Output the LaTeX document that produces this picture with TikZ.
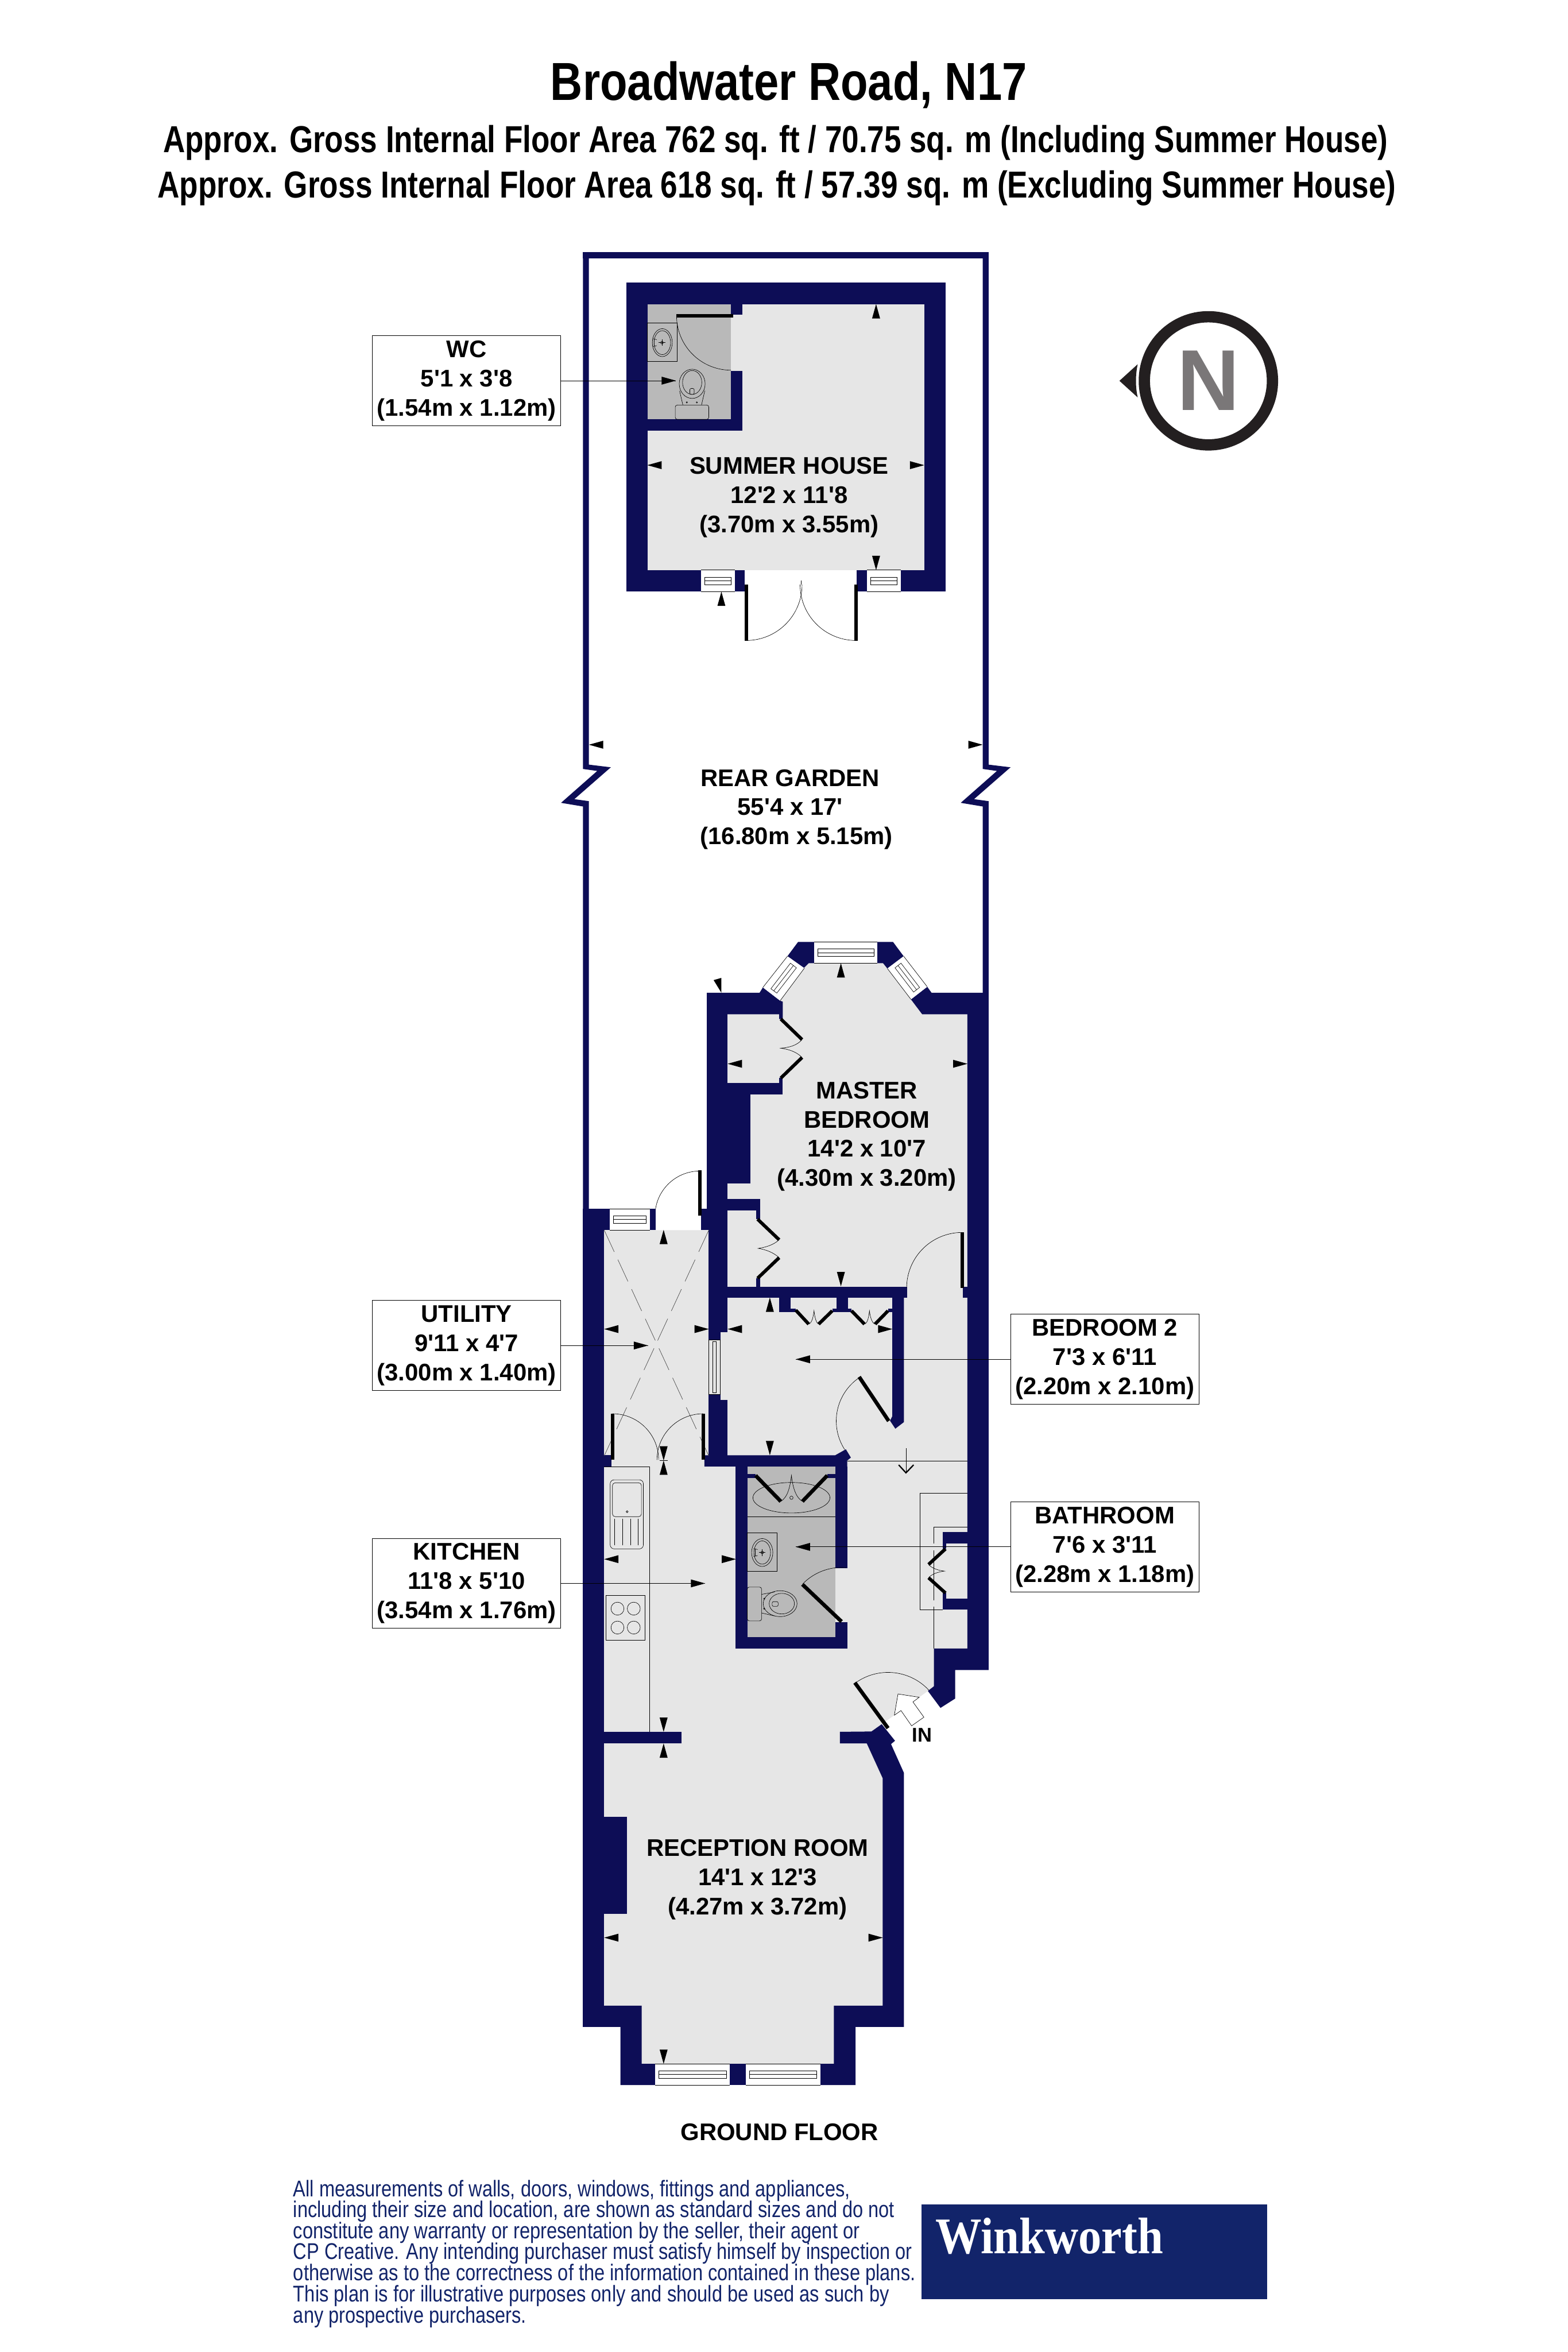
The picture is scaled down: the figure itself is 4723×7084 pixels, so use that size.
\documentclass[tikz,border=0pt]{standalone}
\usepackage{fontspec}
\usepackage{graphicx}
\newfontfamily\arialf{Liberation Sans}
\newfontfamily\seriff{Liberation Serif}
\newlength\pxu
\setlength\pxu{0.01cm}
\definecolor{navy}{HTML}{0D0D56}
\definecolor{logoblue}{HTML}{12246A}
\definecolor{floorgrey}{HTML}{E6E6E6}
\definecolor{wetgrey}{HTML}{B9B9B9}
\definecolor{ringblack}{HTML}{231F20}
\definecolor{ngrey}{HTML}{7A7778}
\tikzset{
  wallfill/.style={fill=navy},
  thinl/.style={draw=black,line width=0.32pt},
  leaf/.style={draw=black,line width=2.85pt},
  leafb/.style={draw=black,line width=3.2pt},
  room/.style={font=\arialf\bfseries\fontsize{20.6}{25}\selectfont,align=center,inner sep=0pt},
  labelbox/.style={room,draw=black,line width=0.4pt,minimum width=5.67cm,minimum height=2.71cm},
  titleline/.style={anchor=base,inner sep=0pt},
  footline/.style={anchor=base west,inner sep=0pt,text=logoblue,font=\arialf\fontsize{19.5}{20}\selectfont},
  leader/.style={draw=black,line width=0.4pt},
  skylight/.style={draw=black!75,line width=0.32pt,dash pattern=on 0.72cm off 0.26cm},
  cupdash/.style={draw=black,line width=0.32pt,dash pattern=on 1.5cm off 0.2cm}
}
\newcommand\dimarr[3]{\fill[black,shift={(#1,#2)},rotate=#3] (0,0)--(-43,-12)--(-43,12)--cycle;}
\newcommand\darc[5]{\draw[thinl] plot[domain=#4:#5,samples=30] ({#1+#2*cos(\x)},{#3-#2*sin(\x)});}
\newcommand\winh[4]{%
  \fill[white] (#1,#2) rectangle (#3,#4);
  \draw[thinl] (#1,#2) -- (#3,#2) (#1,#4) -- (#3,#4);
  \draw[thinl] ({#1+11},{(#2+#4)/2-11}) rectangle ({#3-11},{(#2+#4)/2+11});
  \draw[thinl] ({#1+11},{(#2+#4)/2}) -- ({#3-11},{(#2+#4)/2});
}
\begin{document}
\begin{tikzpicture}[x=0.01cm,y=-0.01cm]
\useasboundingbox (0,0) rectangle (4723,7084);
\fill[white] (0,0) rectangle (4723,7084);
% ---------- floors
\fill[floorgrey] (1950,916) rectangle (2784,1717);
\fill[wetgrey] (1950,916) rectangle (2202,1263);
\fill[floorgrey] (1800,3705) -- (2160,3705) -- (2160,3020) -- (2320,2994) -- (2397,2895) -- (2400,2870) -- (2690,2870) -- (2700,2895) -- (2768,2991) -- (2940,3020) -- (2940,4990) -- (2830,4990) -- (2830,5070) -- (2795,5093) -- (2656,5193) -- (2640,5210) -- (2640,5240) -- (2690,5340) -- (2690,6070) -- (2530,6070) -- (2530,6250) -- (1920,6250) -- (1920,6070) -- (1800,6070) -- cycle;
\fill[wetgrey] (2251,4417) rectangle (2517,4931);
% ---------- garden wall
\fill[wallfill] (1756,760) rectangle (2978,778);
\fill[wallfill] (1756,760) -- (1774,760) -- (1774,2303) -- (1840,2311) -- (1730,2407) -- (1774,2413) -- (1774,3641) -- (1756,3641) -- (1756,2429) -- (1690,2418) -- (1799,2322) -- (1756,2316) -- cycle;
\fill[wallfill] (2960,760) -- (2978,760) -- (2978,2303) -- (3044,2311) -- (2934,2407) -- (2978,2413) -- (2978,3000) -- (2960,3000) -- (2960,2429) -- (2894,2418) -- (3003,2322) -- (2960,2316) -- cycle;
% ---------- summer house walls
\fill[wallfill] (1886,851) rectangle (2849,916);
\fill[wallfill] (1886,916) rectangle (1950,1782);
\fill[wallfill] (2784,916) rectangle (2849,1782);
\fill[wallfill] (1950,1717) rectangle (2112,1782);
\fill[wallfill] (2214,1717) rectangle (2243,1782);
\fill[wallfill] (2581,1717) rectangle (2611,1782);
\fill[wallfill] (2713,1717) rectangle (2784,1782);
\fill[wallfill] (2202,916) rectangle (2237,947);
\fill[wallfill] (2202,1117) rectangle (2237,1297);
\fill[wallfill] (1950,1263) rectangle (2202,1297);
% ---------- house walls
\fill[wallfill] (2129,2990) rectangle (2192,3641);
\fill[wallfill] (2129,2990) -- (2288,2990) -- (2298,2974) -- (2350,3014) -- (2358,3017) -- (2358,3069) -- (2347,3069) -- (2347,3055) -- (2129,3055) -- cycle;
\fill[wallfill] (2372,2880) -- (2404,2837) -- (2452,2837) -- (2452,2901) -- (2436,2901) -- (2421,2916) -- cycle;
\fill[wallfill] (2643,2837) -- (2690,2837) -- (2722,2880) -- (2673,2917) -- (2660,2901) -- (2643,2901) -- cycle;
\fill[wallfill] (2793,2972) -- (2806,2990) -- (2978,2990) -- (2978,5030) -- (2877,5030) -- (2877,5116) -- (2833,5144) -- (2795,5093) -- (2813,5079) -- (2813,4965) -- (2914,4965) -- (2914,3055) -- (2778,3055) -- (2744,3010) -- cycle;
\fill[wallfill] (2192,3261) rectangle (2358,3296);
\fill[wallfill] (2347,3247) rectangle (2358,3261);
\fill[wallfill] (2192,3296) rectangle (2261,3565);
\fill[wallfill] (2192,3611) rectangle (2290,3646);
\fill[wallfill] (2278,3646) rectangle (2290,3671);
\fill[wallfill] (2278,3850) rectangle (2290,3875);
\fill[wallfill] (2135,3875) rectangle (2733,3908);
\fill[wallfill] (2135,3641) rectangle (2192,4013);
\fill[wallfill] (2135,4013) rectangle (2170,4035);
\fill[wallfill] (2135,4200) rectangle (2170,4216);
\fill[wallfill] (2135,4216) rectangle (2192,4417);
\fill[wallfill] (2901,3875) rectangle (2914,3908);
\fill[wallfill] (2347,3908) rectangle (2381,3952);
\fill[wallfill] (2381,3942) rectangle (2397,3952);
\fill[wallfill] (2520,3908) rectangle (2555,3952);
\fill[wallfill] (2507,3942) rectangle (2565,3952);
\fill[wallfill] (2675,3942) rectangle (2688,3952);
\fill[wallfill] (2688,3908) -- (2723,3908) -- (2723,4283) -- (2697,4303) -- (2681,4279) -- (2688,4265) -- cycle;
\fill[wallfill] (2122,4383) -- (2516,4383) -- (2548,4365) -- (2563,4390) -- (2552,4399) -- (2552,4417) -- (2122,4417) -- cycle;
\fill[wallfill] (2216,4417) rectangle (2251,4965);
\fill[wallfill] (2216,4931) rectangle (2552,4965);
\fill[wallfill] (2517,4417) rectangle (2552,4723);
\fill[wallfill] (2517,4886) rectangle (2552,4931);
\fill[wallfill] (2251,4440) rectangle (2276,4452);
\fill[wallfill] (2492,4440) rectangle (2517,4452);
\fill[wallfill] (1756,3641) rectangle (1820,6105);
\fill[wallfill] (1820,3641) rectangle (1837,3705);
\fill[wallfill] (1958,3641) rectangle (1975,3705);
\fill[wallfill] (2111,3641) rectangle (2135,3705);
\fill[wallfill] (1820,4383) rectangle (1842,4417);
\fill[wallfill] (1820,5216) rectangle (2053,5251);
\fill[wallfill] (1820,5472) rectangle (1888,5765);
\fill[wallfill] (2530,5216) -- (2625,5215) -- (2656,5193) -- (2696,5243) -- (2684,5253) -- (2723,5340) -- (2723,6105) -- (2577,6105) -- (2577,6280) -- (2471,6280) -- (2471,6216) -- (2512,6216) -- (2512,6041) -- (2659,6041) -- (2659,5356) -- (2611,5251) -- (2530,5251) -- cycle;
\fill[wallfill] (1756,6105) -- (1869,6105) -- (1869,6280) -- (1974,6280) -- (1974,6216) -- (1933,6216) -- (1933,6041) -- (1756,6041) -- cycle;
\fill[wallfill] (2199,6216) rectangle (2247,6280);
\fill[wallfill] (2839,4615) rectangle (2914,4649);
\fill[wallfill] (2839,4649) rectangle (2851,4665);
\fill[wallfill] (2839,4798) rectangle (2851,4815);
\fill[wallfill] (2839,4815) rectangle (2914,4848);
% ---------- windows
\winh{2112}{1717}{2214}{1782}
\winh{2611}{1717}{2713}{1782}
\winh{2452}{2837}{2643}{2901}
\winh{1837}{3641}{1958}{3705}
\winh{1974}{6216}{2199}{6280}
\winh{2247}{6216}{2471}{6280}
\fill[white] (2298,2974) -- (2372,2880) -- (2423,2916) -- (2350,3014) -- cycle;
\draw[thinl] (2298,2974) -- (2372,2880) (2423,2916) -- (2350,3014);
\draw[thinl] (2322,2978) -- (2381,2901) -- (2399,2915) -- (2340,2991) -- cycle (2331,2984) -- (2390,2908);
\fill[white] (2722,2880) -- (2793,2972) -- (2744,3010) -- (2673,2917) -- cycle;
\draw[thinl] (2722,2880) -- (2793,2972) (2744,3010) -- (2673,2917);
\draw[thinl] (2714,2901) -- (2770,2974) -- (2752,2988) -- (2696,2915) -- cycle (2705,2908) -- (2761,2981);
% internal window, utility to bedroom 2
\draw[thinl] (2135,4035) rectangle (2170,4200);
\draw[thinl] (2147,4041) rectangle (2158,4194);
% ---------- WC fittings
\draw[thinl] (1950,973) rectangle (2040,1089);
\draw[thinl] (1995,1032) ellipse [x radius=30,y radius=42];
\draw[thinl] (1995,1032) ellipse [x radius=25,y radius=36];
\draw[thinl] (1994,1022) -- (1994,1042) (1984,1032) -- (2004,1032);
\draw[thinl] (1994,1032) circle [radius=4];
\draw[thinl] (1971,1021) -- (1971,1043) (1966,1020) -- (1978,1023) (1966,1044) -- (1978,1041);
\draw[thinl] (2085,1156) ellipse [x radius=39,y radius=44];
\draw[thinl] (2085,1152) ellipse [x radius=29,y radius=36];
\draw[thinl,rounded corners=0.04cm] (2078,1170) rectangle (2091,1188);
\draw[thinl] (2047,1177) -- (2057,1220) (2123,1177) -- (2113,1220);
\draw[thinl,rounded corners=0.06cm] (2034,1220) rectangle (2135,1263);
\draw[thinl] (2069,1212) circle [radius=2] (2099,1212) circle [radius=2];
% ---------- bathroom fittings
\draw[thinl] (2251,4568) -- (2517,4568);
\draw[thinl] (2384,4511) ellipse [x radius=116,y radius=46];
\draw[thinl] (2384,4511) circle [radius=5];
\draw[thinl] (2251,4616) rectangle (2341,4732);
\draw[thinl] (2296,4676) ellipse [x radius=32,y radius=42];
\draw[thinl] (2296,4676) ellipse [x radius=25,y radius=35];
\draw[thinl] (2296,4666) -- (2296,4686) (2286,4676) -- (2306,4676);
\draw[thinl] (2296,4676) circle [radius=4];
\draw[thinl] (2275,4665) -- (2275,4687) (2270,4664) -- (2282,4667) (2270,4688) -- (2282,4685);
\draw[thinl,rounded corners=0.06cm] (2251,4780) rectangle (2294,4882);
\draw[thinl] (2350,4830) ellipse [x radius=51,y radius=39];
\draw[thinl] (2355,4830) ellipse [x radius=38,y radius=31];
\draw[thinl] (2294,4802) -- (2333,4795) (2294,4858) -- (2333,4867);
\draw[thinl,rounded corners=0.04cm] (2326,4824) rectangle (2344,4838);
\draw[thinl] (2302,4815) circle [radius=2] (2302,4845) circle [radius=2];
% ---------- kitchen fittings
\draw[thinl] (1820,4417) -- (1956,4417) -- (1956,5216);
\draw[thinl,rounded corners=0.12cm] (1838,4457) rectangle (1938,4665);
\draw[thinl,rounded corners=0.08cm] (1845,4466) rectangle (1932,4568);
\draw[thinl] (1889,4553) circle [radius=3];
\draw[thinl] (1851,4575) -- (1851,4654) (1875,4575) -- (1875,4654) (1899,4575) -- (1899,4654) (1922,4575) -- (1922,4654);
\draw[thinl] (1825,4805) rectangle (1943,4940);
\draw[thinl] (1860,4845) circle [radius=19.5] (1909,4845) circle [radius=19.5] (1860,4902) circle [radius=19.5] (1909,4902) circle [radius=19.5];
% ---------- hall lines
\draw[thinl] (2552,4400) -- (2914,4400);
\draw[thinl] (2729,4362) -- (2729,4435);
\draw[draw=black,line width=1.1pt] (2707,4412) -- (2729,4436) -- (2752,4412);
\draw[thinl] (2914,4497) -- (2772,4497) -- (2772,4848) -- (2839,4848);
\draw[cupdash] (2914,4600) -- (2813,4600) -- (2813,4965);
% ---------- skylight
\draw[skylight] (1820,3705) -- (2135,4385);
\draw[skylight] (2135,3705) -- (1820,4385);
% ---------- door leaves and swings
\draw[leaf] (2038,951) -- (2209,951);
\darc{2202}{164}{951}{180}{270}
\draw[leaf] (2248,1761) -- (2248,1930);
\draw[leaf] (2578,1761) -- (2578,1930);
\darc{2248}{168}{1761}{270}{360}
\darc{2578}{168}{1761}{270}{180}
\draw[thinl] (2413,1749) -- (2413,1761);
% wardrobe 1
\draw[leaf] (2352,3069) -- (2416,3131);
\draw[leaf] (2352,3247) -- (2416,3185);
\draw[thinl] (2416,3131) .. controls (2400,3150) and (2375,3155) .. (2352,3157) .. controls (2375,3160) and (2400,3168) .. (2416,3185);
% wardrobe 2
\draw[leaf] (2282,3672) -- (2347,3734);
\draw[leaf] (2282,3850) -- (2347,3788);
\draw[thinl] (2347,3734) .. controls (2330,3750) and (2305,3757) .. (2284,3760) .. controls (2305,3763) and (2330,3772) .. (2347,3788);
% back door
\draw[leaf] (2108,3525) -- (2108,3662);
\darc{2108}{135}{3662}{90}{171}
% master bedroom door
\draw[leaf] (2898,3712) -- (2898,3879);
\darc{2898}{167}{3879}{90}{180}
% bedroom 2 wardrobes
\draw[leaf] (2397,3946) -- (2436,3988);
\draw[leaf] (2507,3948) -- (2466,3988);
\draw[thinl] (2436,3988) .. controls (2446,3985) and (2450,3965) .. (2452,3948) .. controls (2454,3965) and (2458,3985) .. (2466,3988);
\draw[leaf] (2565,3948) -- (2604,3988);
\draw[leaf] (2675,3948) -- (2636,3988);
\draw[thinl] (2604,3988) .. controls (2614,3985) and (2617,3965) .. (2619,3948) .. controls (2621,3965) and (2626,3985) .. (2636,3988);
% bedroom 2 door
\draw[leafb] (2677,4280) -- (2588,4147);
\darc{2677}{158}{4280}{124}{213}
% utility double door
\draw[leaf] (1845,4258) -- (1845,4397);
\draw[leaf] (2118,4258) -- (2118,4397);
\darc{1845}{139}{4397}{90}{0}
\darc{2118}{139}{4397}{90}{180}
\draw[thinl] (1987,4399) -- (2011,4399);
% bath cupboard
\draw[leafb] (2276,4444) -- (2352,4522);
\draw[leafb] (2492,4444) -- (2417,4522);
\draw[thinl] (2352,4522) .. controls (2372,4510) and (2380,4480) .. (2384,4444) .. controls (2388,4480) and (2397,4510) .. (2417,4522);
% bathroom door
\draw[leafb] (2417,4772) -- (2535,4884);
\darc{2535}{163}{4884}{136}{85}
% hall cupboard
\draw[leaf] (2848,4665) -- (2797,4712);
\draw[leaf] (2848,4798) -- (2797,4752);
\draw[thinl] (2797,4712) .. controls (2805,4722) and (2825,4730) .. (2845,4732) .. controls (2825,4734) and (2805,4742) .. (2797,4752);
% entrance
\draw[leafb] (2575,5068) -- (2675,5205);
\darc{2675}{168}{5205}{126}{43}
\filldraw[fill=white,draw=black,line width=0.32pt] (2705,5102) -- (2769,5112) -- (2750,5126) -- (2783,5172) -- (2746,5198) -- (2714,5152) -- (2694,5166) -- cycle;
% ---------- dimension arrows
\dimarr{2639}{916}{90}
\dimarr{1950}{1401}{180}
\dimarr{2784}{1401}{0}
\dimarr{2639}{1717}{270}
\dimarr{2173}{1782}{90}
\dimarr{1774}{2243}{180}
\dimarr{2960}{2243}{0}
\dimarr{2173}{2990}{286}
\dimarr{2533}{2901}{90}
\dimarr{2192}{3204}{180}
\dimarr{2914}{3204}{0}
\dimarr{2533}{3874}{270}
\dimarr{2319}{3908}{90}
\dimarr{1999}{3704}{90}
\dimarr{1820}{4003}{180}
\dimarr{2135}{4003}{0}
\dimarr{2192}{4003}{180}
\dimarr{2688}{4003}{0}
\dimarr{2319}{4383}{270}
\dimarr{1999}{4399}{270}
\dimarr{1999}{4399}{90}
\dimarr{1820}{4696}{180}
\dimarr{2217}{4696}{0}
\dimarr{1999}{5216}{270}
\dimarr{1999}{5251}{90}
\dimarr{1820}{5836}{180}
\dimarr{2659}{5836}{0}
\dimarr{1999}{6216}{270}
% ---------- room labels
\node[room] (summer) at (2377,1498) {SUMMER HOUSE\\12'2 x 11'8\\(3.70m x 3.55m)};
\node[room] (garden) at (2380,2438) {REAR GARDEN\\55'4 x 17'\\\hspace*{38\pxu}(16.80m x 5.15m)};
\node[room] (master) at (2611,3423) {MASTER\\BEDROOM\\14'2 x 10'7\\(4.30m x 3.20m)};
\node[room] (reception) at (2282,5661) {RECEPTION ROOM\\14'1 x 12'3\\(4.27m x 3.72m)};
\node[room,font=\arialf\bfseries\fontsize{17}{20}\selectfont] (innote) at (2778,5226) {IN};
\node[room,anchor=base] (ground) at (2348,6447) {GROUND FLOOR};
% ---------- callout boxes and leaders
\node[labelbox] (wcbox) at (1405.5,1146.5) {WC\\5'1 x 3'8\\(1.54m x 1.12m)};
\node[labelbox] (utilbox) at (1405.5,4052.5) {UTILITY\\9'11 x 4'7\\(3.00m x 1.40m)};
\node[labelbox] (kitbox) at (1405.5,4769) {KITCHEN\\11'8 x 5'10\\(3.54m x 1.76m)};
\node[labelbox] (bedbox) at (3328,4094) {BEDROOM 2\\7'3 x 6'11\\(2.20m x 2.10m)};
\node[labelbox] (bathbox) at (3328,4659) {BATHROOM\\7'6 x 3'11\\(2.28m x 1.18m)};
\coordinate (wctip) at (2036,1146.5);
\coordinate (utiltip) at (1952,4052.5);
\coordinate (kittip) at (2124,4769);
\coordinate (bedtip) at (2397,4094);
\coordinate (bathtip) at (2397,4659);
\draw[leader] (wcbox.east) -- (wctip);
\draw[leader] (utilbox.east) -- (utiltip);
\draw[leader] (kitbox.east) -- (kittip);
\draw[leader] (bedbox.west) -- (bedtip);
\draw[leader] (bathbox.west) -- (bathtip);
\dimarr{2036}{1146.5}{0}
\dimarr{1952}{4052.5}{0}
\dimarr{2124}{4769}{0}
\dimarr{2397}{4094}{180}
\dimarr{2397}{4659}{180}
% ---------- north point
\draw[ringblack,line width=9.67pt] (3640,1147) circle [radius=193];
\fill[ringblack] (3372,1147) -- (3427,1097) .. controls (3420,1130) and (3420,1165) .. (3427,1197) -- cycle;
\node[inner sep=0pt,text=ngrey,font=\arialf\bfseries\fontsize{74}{74}\selectfont] (north) at (3640,1147) {N};
% ---------- title
\node[titleline] (title) at (2376,301) {\resizebox{1435\pxu}{\height}{\arialf\bfseries\fontsize{45.8}{50}\selectfont Broadwater Road, N17}};
\node[titleline] (areaa) at (2336,460) {\resizebox{3689\pxu}{\height}{\arialf\bfseries\fontsize{32.2}{36}\selectfont Approx. Gross Internal Floor Area 762 sq. ft / 70.75 sq. m (Including Summer House)}};
\node[titleline] (areab) at (2340,596) {\resizebox{3731\pxu}{\height}{\arialf\bfseries\fontsize{32.2}{36}\selectfont Approx. Gross Internal Floor Area 618 sq. ft / 57.39 sq. m (Excluding Summer House)}};
% ---------- footer
\node[footline] (fa) at (883,6616) {\resizebox{1677\pxu}{\height}{All measurements of walls, doors, windows, fittings and appliances,}};
\node[footline] (fb) at (883,6679) {\resizebox{1811\pxu}{\height}{including their size and location, are shown as standard sizes and do not}};
\node[footline] (fc) at (883,6743) {\resizebox{1706\pxu}{\height}{constitute any warranty or representation by the seller, their agent or}};
\node[footline] (fd) at (883,6804) {\resizebox{1864\pxu}{\height}{CP Creative. Any intending purchaser must satisfy himself by inspection or}};
\node[footline] (fe) at (883,6868) {\resizebox{1874\pxu}{\height}{otherwise as to the correctness of the information contained in these plans.}};
\node[footline] (ff) at (883,6933) {\resizebox{1795\pxu}{\height}{This plan is for illustrative purposes only and should be used as such by}};
\node[footline] (fg) at (883,6996) {\resizebox{702\pxu}{\height}{any prospective purchasers.}};
% ---------- logo
\fill[logoblue] (2775,6639) rectangle (3817,6925);
\node[anchor=base west,inner sep=0pt,text=white] (logo) at (2817,6788) {\resizebox{686\pxu}{\height}{\seriff\bfseries\fontsize{44}{48}\selectfont Winkworth}};
\end{tikzpicture}
\end{document}
